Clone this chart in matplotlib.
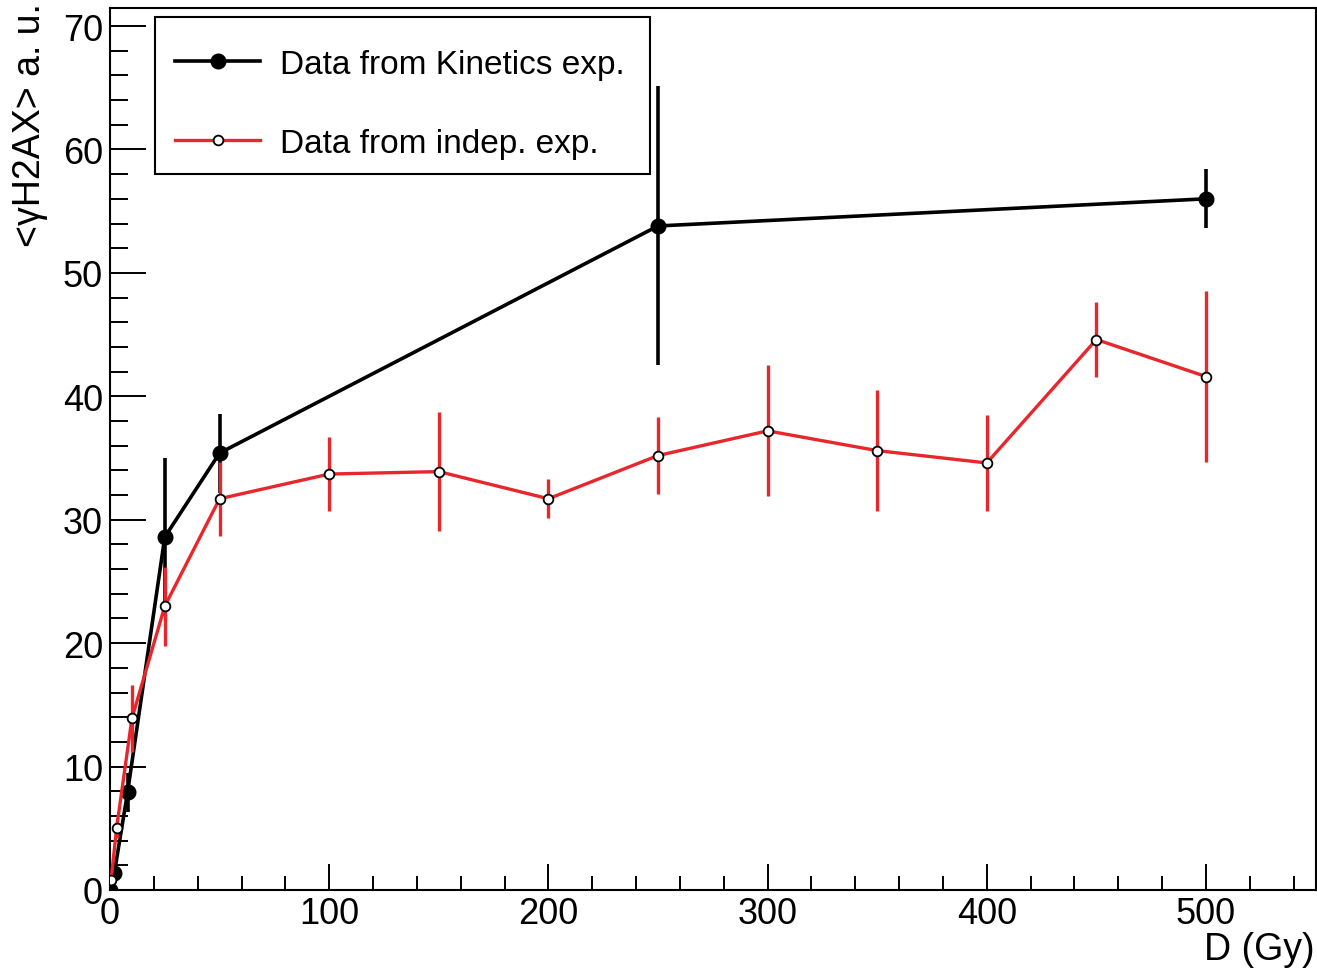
import matplotlib
matplotlib.use("Agg")
import matplotlib.pyplot as plt
from matplotlib.lines import Line2D
from matplotlib.patches import Rectangle
from matplotlib.ticker import MultipleLocator

plt.rcParams['font.family'] = ['Liberation Sans', 'DejaVu Sans']

# Kinetics experiment
dose_k = [0, 2, 8, 25, 50, 250, 500]
gamma_k = [0.0, 1.4, 7.9, 28.6, 35.4, 53.8, 56.0]
err_k = [0.3, 0.8, 1.6, 6.4, 3.2, 11.3, 2.4]

# independent experiment
dose_i = [0.5, 3, 10, 25, 50, 100, 150, 200, 250, 300, 350, 400, 450, 500]
gamma_i = [0.8, 5.0, 13.9, 23.0, 31.7, 33.7, 33.9, 31.7, 35.2, 37.2, 35.6, 34.6, 44.6, 41.6]
err_i = [0.4, 0.8, 2.7, 3.2, 3.0, 3.0, 4.8, 1.6, 3.1, 5.3, 4.9, 3.9, 3.0, 6.9]

red = '#e8272c'

fig = plt.figure(figsize=(13.17, 9.70), dpi=100)
ax = fig.add_axes([110/1317, 1 - 891/970, 1206/1317, 882/970])

ax.errorbar(dose_k, gamma_k, yerr=err_k, color='black', lw=2.6, elinewidth=2.6,
            marker='o', ms=10.5, capsize=0, zorder=2)
ax.errorbar(dose_i, gamma_i, yerr=err_i, color=red, lw=2.4, elinewidth=2.4,
            marker='o', ms=7, mfc='white', mec='black', mew=1.3, capsize=0, zorder=3)

ax.set_xlim(0, 550.2)
ax.set_ylim(0, 71.46)
ax.xaxis.set_major_locator(MultipleLocator(100))
ax.xaxis.set_minor_locator(MultipleLocator(20))
ax.yaxis.set_major_locator(MultipleLocator(10))
ax.yaxis.set_minor_locator(MultipleLocator(2))

for s in ax.spines.values():
    s.set_linewidth(1.5)
ax.tick_params(axis='both', which='both', direction='in', width=1.4, labelsize=26)
ax.tick_params(axis='y', which='major', length=26, pad=5)
ax.tick_params(axis='y', which='minor', length=13)
ax.tick_params(axis='x', which='major', length=19, pad=4)
ax.tick_params(axis='x', which='minor', length=10)

fig.text(30/1317, 1 - 3/970, '<γH2AX> a. u.', rotation=90, ha='center', va='top', fontsize=27)
fig.text(1 - 2/1317, 1 - 968/970, 'D (Gy)', ha='right', va='bottom', fontsize=27)

# legend box (ROOT style, drawn separately)
ax.add_patch(Rectangle((0.0373, 0.8118), 0.4104, 0.178, transform=ax.transAxes,
                       facecolor='white', edgecolor='black', lw=1.5, zorder=4))
handles = [
    Line2D([], [], color='black', lw=2.6, marker='o', ms=10.5),
    Line2D([], [], color=red, lw=2.4, marker='o', ms=7, mfc='white', mec='black', mew=1.3),
]
labels = ['Data from Kinetics exp.', 'Data from indep. exp.']
leg = ax.legend(handles, labels, loc='upper left', bbox_to_anchor=(0.0539, 0.954), fontsize=24,
                frameon=False, borderpad=0, handlelength=2.55, handletextpad=0.6,
                labelspacing=1.45, borderaxespad=0)
leg.set_zorder(5)

fig.savefig('out.png', dpi=100)
